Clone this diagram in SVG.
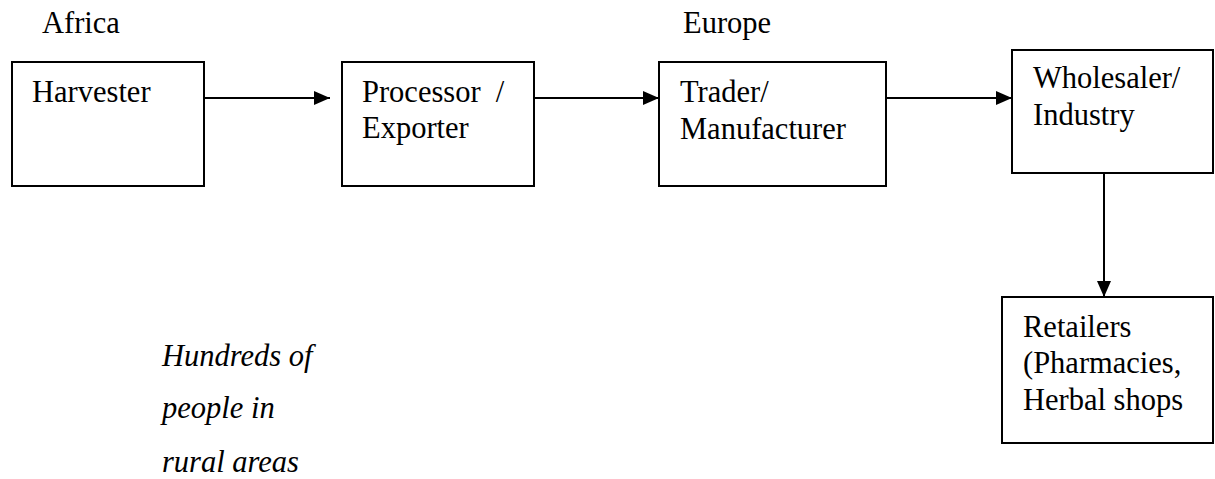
<svg xmlns="http://www.w3.org/2000/svg" width="1215" height="479" viewBox="0 0 1215 479">
<style>
.box{fill:#fff;stroke:#000;stroke-width:2}
.t{font-family:"Liberation Serif","Times New Roman",serif;font-size:30.5px;fill:#000}
.i{font-style:italic}
.c{stroke:#000;stroke-width:2;fill:none}
</style>
<defs>
<marker id="ah" viewBox="0 0 16 14" refX="16" refY="7" markerWidth="16" markerHeight="14" markerUnits="userSpaceOnUse" orient="auto">
<path d="M0,0 L16,7 L0,14 Z" fill="#000"/>
</marker>
</defs>
<rect width="1215" height="479" fill="#fff"/>
<text class="t" x="42" y="33">Africa</text>
<text class="t" x="683" y="33">Europe</text>
<g id="harvester">
<rect class="box" x="12" y="62" width="192" height="124"/>
<text class="t" x="32" y="102">Harvester</text>
</g>
<g id="processor">
<rect class="box" x="342" y="62" width="192" height="124"/>
<text class="t" x="362" y="102" xml:space="preserve">Processor  /</text>
<text class="t" x="362" y="138">Exporter</text>
</g>
<g id="trader">
<rect class="box" x="659" y="62" width="227" height="124"/>
<text class="t" x="680" y="102">Trader/</text>
<text class="t" x="680" y="139">Manufacturer</text>
</g>
<g id="wholesaler">
<rect class="box" x="1012" y="50" width="201" height="123"/>
<text class="t" x="1033" y="88">Wholesaler/</text>
<text class="t" x="1033" y="125">Industry</text>
</g>
<g id="retailers">
<rect class="box" x="1002" y="297" width="211" height="146"/>
<text class="t" x="1023" y="337">Retailers</text>
<text class="t" x="1023" y="373">(Pharmacies,</text>
<text class="t" x="1023" y="410">Herbal shops</text>
</g>
<g id="note">
<text class="t i" x="162" y="366">Hundreds of</text>
<text class="t i" x="162" y="418">people in</text>
<text class="t i" x="162" y="472">rural areas</text>
</g>
<g id="connectors">
<line class="c" x1="204" y1="98" x2="330" y2="98" marker-end="url(#ah)"/>
<line class="c" x1="534" y1="98" x2="659" y2="98" marker-end="url(#ah)"/>
<line class="c" x1="886" y1="98" x2="1012" y2="98" marker-end="url(#ah)"/>
<line class="c" x1="1104" y1="173" x2="1104" y2="297" marker-end="url(#ah)"/>
</g>
</svg>
